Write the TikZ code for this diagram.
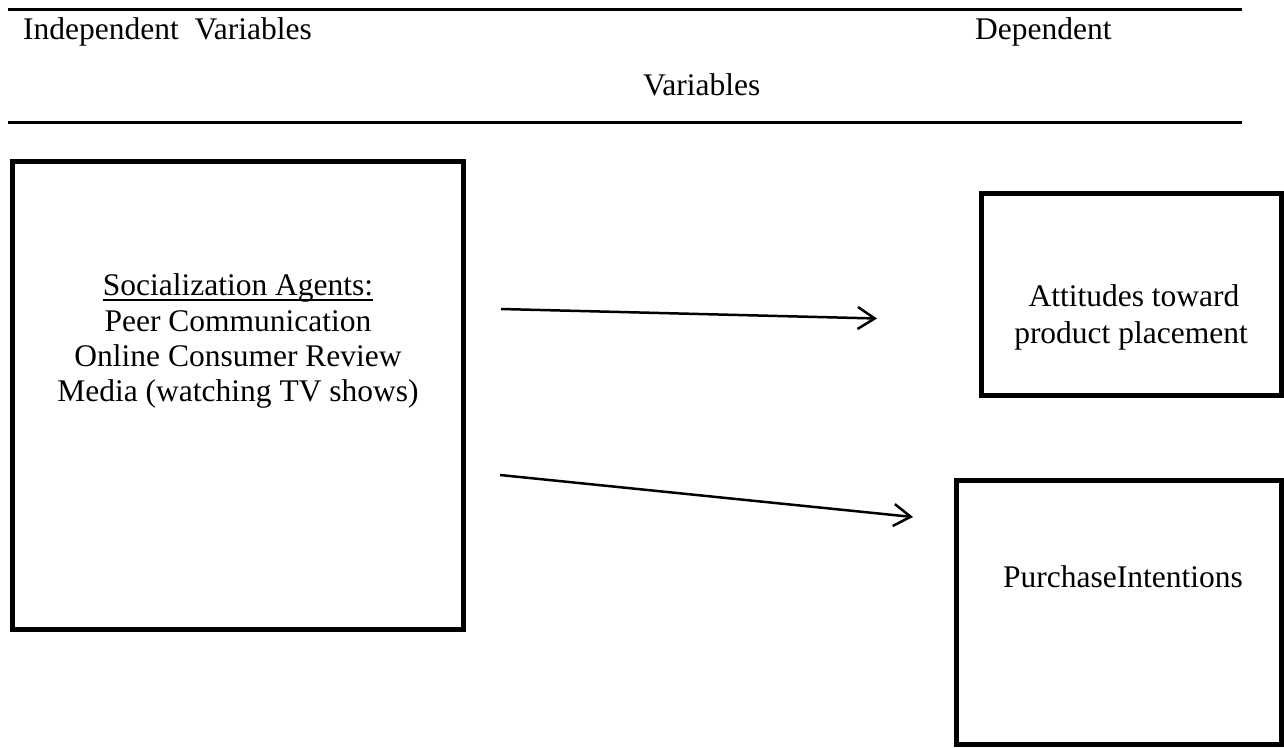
\documentclass[tikz,border=0pt]{standalone}
\usepackage{fontspec}
\setmainfont{Liberation Serif}
\usetikzlibrary{arrows.meta}
\begin{document}
\begin{tikzpicture}[x=1pt,y=-1pt,
  box/.style={draw, line width=5pt, inner sep=0pt},
  lbl/.style={inner sep=0pt, anchor=base, font=\fontsize{31.5}{35.5}\selectfont},
  hrule/.style={line width=3pt},
  conn/.style={line width=2.5pt, -{Straight Barb[length=17pt,width=22pt]}}]
\useasboundingbox (0,0) rectangle (1284,747);
% header rules
\coordinate (t1) at (8,9.5);
\coordinate (t2) at (1242,9.5);
\coordinate (b1) at (8,122.5);
\coordinate (b2) at (1242,122.5);
\draw[hrule] (t1) -- (t2);
\draw[hrule] (b1) -- (b2);
% header texts
\node[lbl, anchor=base west] (indep) at (23,39.3) {Independent\ \ Variables};
\node[lbl, anchor=base west] (dep) at (975,39.3) {Dependent};
\node[lbl] (vars) at (701.7,95) {Variables};
% boxes
\node[box, minimum width=451pt, minimum height=468pt] (left) at (238,395.5) {};
\node[box, minimum width=300pt, minimum height=202pt] (att) at (1131.5,294.5) {};
\node[box, minimum width=325pt, minimum height=264.5pt] (pur) at (1119,612.25) {};
% left box text
\node[lbl] (soc) at (238,295.7) {Socialization Agents:};
\draw[line width=2pt] ([yshift=-4.5pt]soc.base west) -- ([yshift=-4.5pt]soc.base east);
\node[lbl] (peer) at (238,331) {Peer Communication};
\node[lbl] (online) at (238,366.5) {Online Consumer Review};
\node[lbl] (media) at (238,401.7) {Media (watching TV shows)};
% right box texts
\node[lbl] (att1) at (1134,306.5) {Attitudes toward};
\node[lbl] (att2) at (1131,343) {product placement};
\node[lbl] (pi) at (1123,587) {PurchaseIntentions};
% arrows
\coordinate (a1s) at (501,309);
\coordinate (a1e) at (877,318.5);
\coordinate (a2s) at (500,475);
\coordinate (a2e) at (913,517);
\draw[conn] (a1s) -- (a1e);
\draw[conn] (a2s) -- (a2e);
\end{tikzpicture}
\end{document}
